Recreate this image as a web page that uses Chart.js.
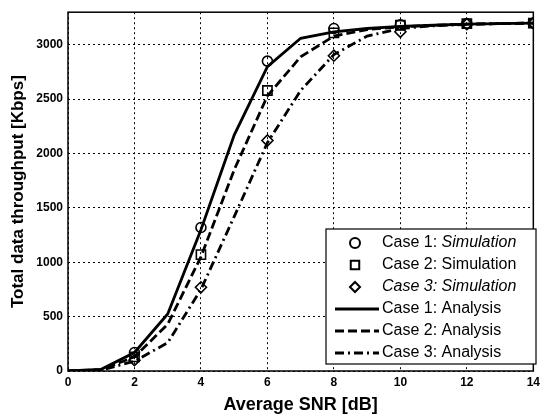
<!DOCTYPE html>
<html>
<head>
<meta charset="utf-8">
<script src="https://cdn.jsdelivr.net/npm/chart.js@4/dist/chart.umd.min.js"></script>
<style>
  html, body { margin: 0; padding: 0; background: #fff; }
  #wrap { width: 544px; height: 419px; }
</style>
</head>
<body>
<div id="wrap"><canvas id="c" width="544" height="419"></canvas></div>
<script>
// analysis curves, one value per dB
const snr = [0, 1, 2, 3, 4, 5, 6, 7, 8, 9, 10, 11, 12, 13, 14];
const case1Analysis = [0, 15, 170, 525, 1300, 2170, 2800, 3060, 3120, 3150, 3170, 3180, 3190, 3195, 3200];
const case2Analysis = [0, 12, 130, 430, 1050, 1850, 2530, 2890, 3080, 3140, 3165, 3180, 3190, 3195, 3200];
const case3Analysis = [0, 8, 90, 260, 750, 1420, 2100, 2580, 2910, 3080, 3150, 3175, 3188, 3195, 3200];

// simulation markers
const simSnr = [2, 4, 6, 8, 10, 12, 14];
const case1Sim = [170, 1320, 2850, 3150, 3185, 3195, 3200];
const case2Sim = [130, 1070, 2580, 3110, 3180, 3195, 3200];
const case3Sim = [100, 770, 2120, 2900, 3120, 3190, 3200];

const xTicks = [0, 2, 4, 6, 8, 10, 12, 14];
const yTicks = [0, 500, 1000, 1500, 2000, 2500, 3000];

const pts = (xs, ys) => xs.map((x, i) => ({ x, y: ys[i] }));
const FONT = "'Liberation Sans', Arial, sans-serif";

const line = (label, ys, dash) => ({
  label, data: pts(snr, ys), showLine: true, borderColor: '#000', borderWidth: 2.8,
  borderDash: dash, pointRadius: 0, tension: 0,
});
const marks = (label, ys, style, r) => ({
  label, data: pts(simSnr, ys), showLine: false, pointStyle: style, pointRadius: r,
  borderColor: '#000', backgroundColor: 'transparent', pointBorderWidth: 1.6,
});

const legendRows = [
  { kind: 'circle', parts: [['Case 1: ', ''], ['Simulation', 'italic ']] },
  { kind: 'rect', parts: [['Case 2: Simulation', '']] },
  { kind: 'rectRot', parts: [['Case 3: Simulation', 'italic ']] },
  { kind: [], parts: [['Case 1: Analysis', '']] },
  { kind: [9, 4], parts: [['Case 2: Analysis', '']] },
  { kind: [9, 4, 2, 4], parts: [['Case 3: Analysis', '']] },
];

const framePlugin = {
  id: 'frame',
  afterDraw(c) {
    const { ctx, chartArea: a } = c;
    ctx.save();
    ctx.strokeStyle = '#000';
    ctx.lineWidth = 1.5;
    ctx.strokeRect(a.left, a.top, a.right - a.left, a.bottom - a.top);

    // legend box
    const L = 326, T = 229, W = 210, H = 135;
    ctx.fillStyle = '#fff';
    ctx.fillRect(L, T, W, H);
    ctx.lineWidth = 1.2;
    ctx.strokeRect(L, T, W, H);
    legendRows.forEach((row, i) => {
      const y = T + 14 + i * 22;
      ctx.setLineDash([]);
      ctx.strokeStyle = '#000';
      if (typeof row.kind === 'string') {
        ctx.fillStyle = '#fff';
        ctx.lineWidth = 2;
        Chart.helpers.drawPoint(ctx, { pointStyle: row.kind, radius: row.kind === 'rect' ? 6 : 5, borderWidth: 2 }, 355, y);
      } else {
        ctx.beginPath();
        ctx.setLineDash(row.kind);
        ctx.lineWidth = 2.8;
        ctx.moveTo(335, y); ctx.lineTo(379, y);
        ctx.stroke();
        ctx.setLineDash([]);
      }
      let x = 382;
      ctx.fillStyle = '#000';
      ctx.textBaseline = 'middle';
      for (const [txt, st] of row.parts) {
        ctx.font = st + '16px ' + FONT;
        ctx.fillText(txt, x, y);
        x += ctx.measureText(txt).width;
      }
    });
    ctx.restore();
  }
};

new Chart(document.getElementById('c'), {
  type: 'scatter',
  data: { datasets: [
    line('Case 1: Analysis', case1Analysis, []),
    line('Case 2: Analysis', case2Analysis, [9, 4]),
    line('Case 3: Analysis', case3Analysis, [9, 4, 2, 4]),
    marks('Case 1: Simulation', case1Sim, 'circle', 5),
    marks('Case 2: Simulation', case2Sim, 'rect', 6.5),
    marks('Case 3: Simulation', case3Sim, 'rectRot', 5.5),
  ]},
  options: {
    responsive: false, animation: false,
    layout: { padding: { left: 0, right: 9, top: 7, bottom: 0 } },
    plugins: { legend: { display: false }, tooltip: { enabled: false } },
    scales: {
      x: {
        type: 'linear', min: 0, max: 14,
        afterFit: s => { s.height = 48; },
        afterBuildTicks: s => { s.ticks = xTicks.map(v => ({ value: v })); },
        ticks: { color: '#000', padding: 4, callback: v => String(v),
          font: { family: FONT, size: 12, weight: 'bold' } },
        grid: { color: '#000', lineWidth: 1, drawTicks: false },
        border: { display: false, dash: [2, 3] },
        title: { display: true, text: 'Average SNR [dB]', color: '#000',
          font: { family: FONT, size: 18, weight: 'bold' }, padding: { top: 0, bottom: 3 } },
      },
      y: {
        min: 0, max: 3300,
        afterFit: s => { s.width = 68; },
        afterBuildTicks: s => { s.ticks = yTicks.map(v => ({ value: v })); },
        ticks: { color: '#000', padding: 5, callback: v => String(v),
          font: { family: FONT, size: 12, weight: 'bold' } },
        grid: { color: '#000', lineWidth: 1, drawTicks: false },
        border: { display: false, dash: [2, 3] },
        title: { display: true, text: 'Total data throughput [Kbps]', color: '#000',
          font: { family: FONT, size: 17, weight: 'bold' }, padding: { top: 8, bottom: 0 } },
      },
    },
  },
  plugins: [framePlugin],
});
</script>
</body>
</html>
